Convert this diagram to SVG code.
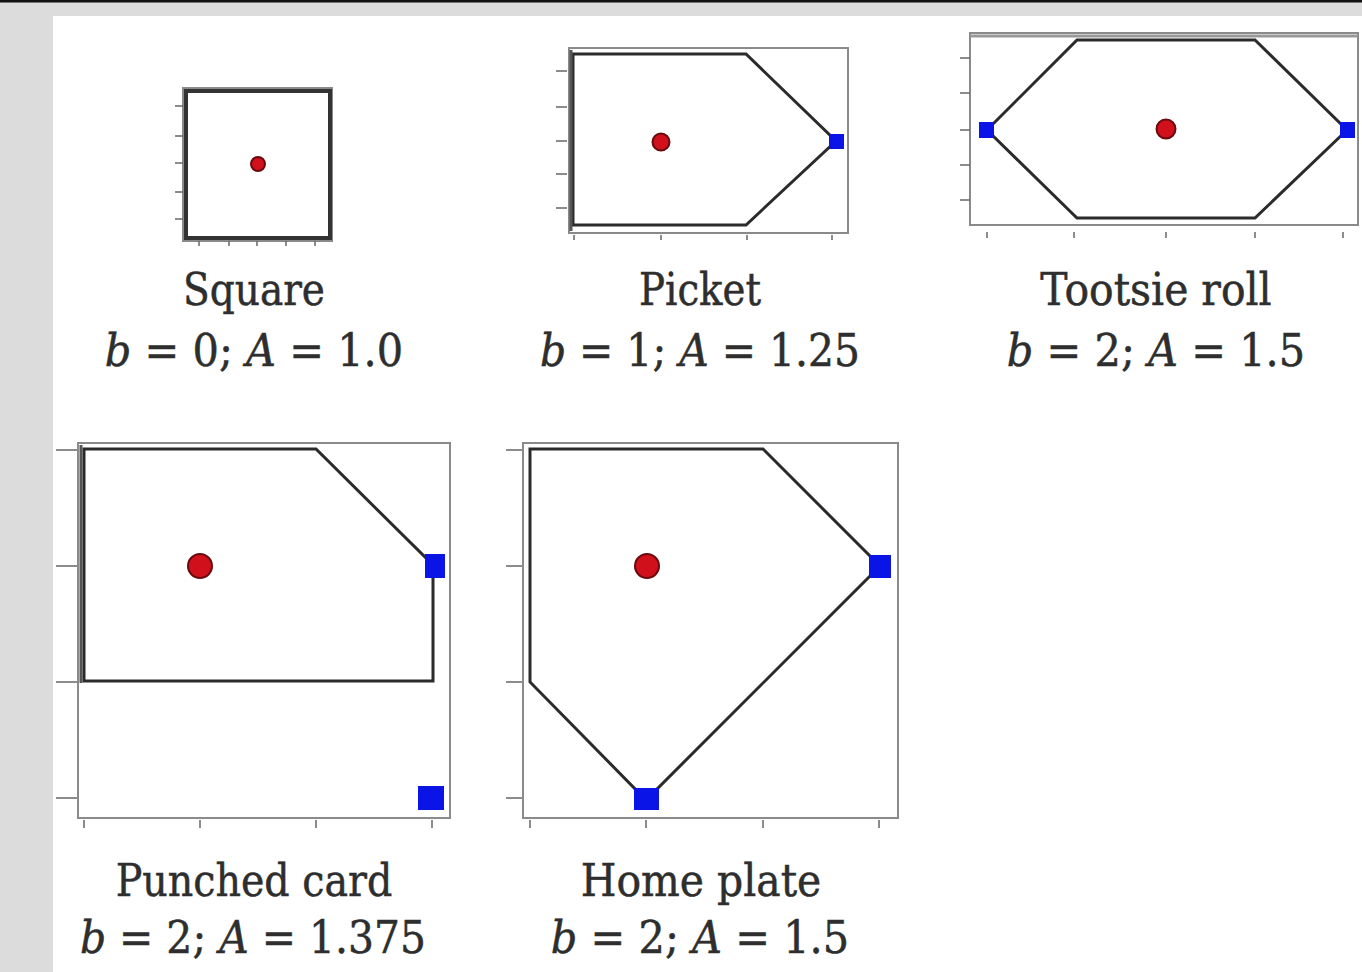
<svg xmlns="http://www.w3.org/2000/svg" width="1362" height="972" viewBox="0 0 1362 972">
<style>
.frame{fill:none;stroke:#8a8a8a;stroke-width:2}
.poly{fill:#fff;stroke:#2b2b2b;stroke-width:3;stroke-linejoin:miter}
.tick{stroke:#666;stroke-width:1.5}
.dot{fill:#d0101a;stroke:#6a0a10;stroke-width:2}
.sq{fill:#0a14e6}
.t{font-family:"DejaVu Serif","Liberation Serif","Times New Roman",serif;font-size:44px;fill:#2e2e2e;stroke:#2e2e2e;stroke-width:0.5;text-anchor:middle}
.i{font-style:italic}
</style>
<rect x="0" y="0" width="1362" height="972" fill="#fff"/>
<rect x="0" y="0" width="1362" height="16" fill="#dcdcdc"/>
<rect x="0" y="0" width="53" height="972" fill="#dcdcdc"/>
<rect x="0" y="0" width="1362" height="2.5" fill="#111"/>

<g id="square">
  <rect class="frame" x="183" y="88" width="149" height="153"/>
  <rect x="186" y="91" width="144" height="147" fill="#fff" stroke="#333" stroke-width="4"/>
  <g class="tick">
    <line x1="175" y1="106" x2="183" y2="106"/><line x1="175" y1="136" x2="183" y2="136"/><line x1="175" y1="163" x2="183" y2="163"/><line x1="175" y1="192" x2="183" y2="192"/><line x1="175" y1="219" x2="183" y2="219"/>
    <line x1="199" y1="241" x2="199" y2="246"/><line x1="229" y1="241" x2="229" y2="246"/><line x1="257" y1="241" x2="257" y2="246"/><line x1="286" y1="241" x2="286" y2="246"/><line x1="315" y1="241" x2="315" y2="246"/>
  </g>
  <circle class="dot" cx="258" cy="164" r="7"/>
  <text class="t" transform="translate(254,305) scale(0.888,1)">Square</text>
  <text class="t" transform="translate(254,366) scale(0.943,1)"><tspan class="i">b</tspan> = 0; <tspan class="i">A</tspan> = 1.0</text>
</g>

<g id="picket">
  <rect class="frame" x="569" y="48" width="279" height="185"/>
  <polygon class="poly" points="573,54 746,54 836,141 746,225 573,225"/>
  <line x1="571" y1="50" x2="571" y2="231" stroke="#555" stroke-width="3"/>
  <g class="tick">
    <line x1="556" y1="71" x2="567" y2="71"/><line x1="556" y1="107" x2="567" y2="107"/><line x1="556" y1="141" x2="567" y2="141"/><line x1="556" y1="174" x2="567" y2="174"/><line x1="556" y1="208" x2="567" y2="208"/>
    <line x1="574" y1="235" x2="574" y2="240"/><line x1="661" y1="235" x2="661" y2="240"/><line x1="747" y1="235" x2="747" y2="240"/><line x1="832" y1="235" x2="832" y2="240"/>
  </g>
  <rect class="sq" x="829" y="134" width="15" height="15"/>
  <circle class="dot" cx="661" cy="142" r="8.5"/>
  <text class="t" transform="translate(700,305) scale(0.88,1)">Picket</text>
  <text class="t" transform="translate(700,366) scale(0.93,1)"><tspan class="i">b</tspan> = 1; <tspan class="i">A</tspan> = 1.25</text>
</g>

<g id="tootsie-roll">
  <rect class="frame" x="970" y="33" width="388" height="192"/>
  <line x1="970" y1="36" x2="1358" y2="36" stroke="#999" stroke-width="3"/>
  <polygon class="poly" points="987,130 1077,40 1255,40 1347,130 1255,218 1077,218"/>
  <g class="tick">
    <line x1="960" y1="58" x2="970" y2="58"/><line x1="960" y1="93" x2="970" y2="93"/><line x1="960" y1="130" x2="970" y2="130"/><line x1="960" y1="165" x2="970" y2="165"/><line x1="960" y1="200" x2="970" y2="200"/>
    <line x1="987" y1="232" x2="987" y2="238"/><line x1="1074" y1="232" x2="1074" y2="238"/><line x1="1166" y1="232" x2="1166" y2="238"/><line x1="1255" y1="232" x2="1255" y2="238"/><line x1="1343" y1="232" x2="1343" y2="238"/>
  </g>
  <rect class="sq" x="979" y="122" width="15" height="16"/>
  <rect class="sq" x="1340" y="122" width="15" height="16"/>
  <circle class="dot" cx="1166" cy="129" r="9.5"/>
  <text class="t" transform="translate(1156,305) scale(0.93,1)">Tootsie roll</text>
  <text class="t" transform="translate(1156,366) scale(0.943,1)"><tspan class="i">b</tspan> = 2; <tspan class="i">A</tspan> = 1.5</text>
</g>

<g id="punched-card">
  <rect class="frame" x="78" y="443" width="372" height="375"/>
  <polygon class="poly" points="84,449 316,449 433,565 433,681 84,681"/>
  <line x1="81" y1="445" x2="81" y2="683" stroke="#555" stroke-width="3"/>
  <g class="tick">
    <line x1="56" y1="450" x2="77" y2="450"/><line x1="56" y1="566" x2="77" y2="566"/><line x1="56" y1="682" x2="77" y2="682"/><line x1="56" y1="798" x2="77" y2="798"/>
    <line x1="84" y1="820" x2="84" y2="828"/><line x1="200" y1="820" x2="200" y2="828"/><line x1="316" y1="820" x2="316" y2="828"/><line x1="432" y1="820" x2="432" y2="828"/>
  </g>
  <rect class="sq" x="425" y="554" width="20" height="24"/>
  <rect class="sq" x="418" y="786" width="26" height="24"/>
  <circle class="dot" cx="200" cy="566" r="12"/>
  <text class="t" transform="translate(254,896) scale(0.9,1)">Punched card</text>
  <text class="t" transform="translate(253,953) scale(0.93,1)"><tspan class="i">b</tspan> = 2; <tspan class="i">A</tspan> = 1.375</text>
</g>

<g id="home-plate">
  <rect class="frame" x="523" y="443" width="375" height="375"/>
  <polygon class="poly" points="530,449 763,449 880,566 646,800 530,682"/>
  <g class="tick">
    <line x1="506" y1="450" x2="522" y2="450"/><line x1="506" y1="566" x2="522" y2="566"/><line x1="506" y1="682" x2="522" y2="682"/><line x1="506" y1="798" x2="522" y2="798"/>
    <line x1="530" y1="820" x2="530" y2="828"/><line x1="646" y1="820" x2="646" y2="828"/><line x1="763" y1="820" x2="763" y2="828"/><line x1="879" y1="820" x2="879" y2="828"/>
  </g>
  <rect class="sq" x="869" y="555" width="22" height="23"/>
  <rect class="sq" x="634" y="788" width="25" height="22"/>
  <circle class="dot" cx="647" cy="566" r="12"/>
  <text class="t" transform="translate(701,896) scale(0.93,1)">Home plate</text>
  <text class="t" transform="translate(700,953) scale(0.943,1)"><tspan class="i">b</tspan> = 2; <tspan class="i">A</tspan> = 1.5</text>
</g>
</svg>
